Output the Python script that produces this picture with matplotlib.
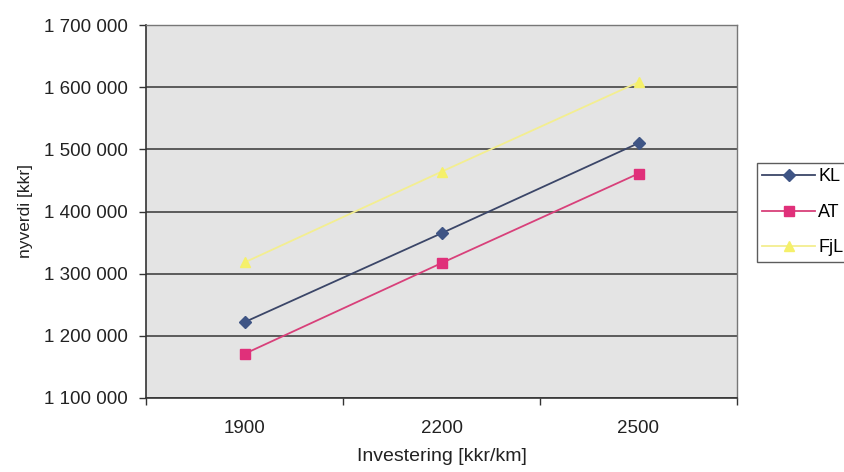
import matplotlib
matplotlib.use("Agg")
import matplotlib.pyplot as plt
from matplotlib.ticker import FuncFormatter, FixedLocator

plt.rcParams['font.family'] = ['Liberation Sans', 'DejaVu Sans']

categories = ["1900", "2200", "2500"]
kl = [1222000, 1365000, 1510000]
at = [1171000, 1317000, 1461000]
fjl = [1318000, 1464000, 1608000]
series_names = ["KL", "AT", "FjL"]
y_ticks = [1100000, 1200000, 1300000, 1400000, 1500000, 1600000, 1700000]

fig = plt.figure(figsize=(8.44, 4.72), dpi=100)
ax = fig.add_axes([146/844, 74/472, (737-146)/844, (398-25)/472])
ax.set_facecolor('#e4e4e4')

x = list(range(len(categories)))
ax.plot(x, kl, color='#3b4668', lw=1.3, marker='D', ms=6, mfc='#3f5585', mec='#3f5585', label=series_names[0], zorder=3)
ax.plot(x, at, color='#d8407a', lw=1.3, marker='s', ms=6.5, mfc='#e0307a', mec='#e0307a', label=series_names[1], zorder=3)
ax.plot(x, fjl, color='#f3ee90', lw=1.3, marker='^', ms=7, mfc='#f5f06a', mec='#f5f06a', label=series_names[2], zorder=3)

ax.set_xlim(-0.5, len(categories) - 0.5)
ax.set_ylim(1100000, 1700000)
ax.set_yticks(y_ticks)
ax.yaxis.set_major_formatter(FuncFormatter(lambda v, p: f"{int(v):,}".replace(",", " ")))
ax.grid(axis='y', color='#505050', lw=1.3, zorder=1)
ax.set_axisbelow(True)

ax.set_xticks(x)
ax.set_xticklabels(categories)
ax.xaxis.set_minor_locator(FixedLocator([i - 0.5 for i in range(len(categories) + 1)]))
ax.tick_params(axis='x', which='major', length=0, pad=16, labelsize=13.5, colors='#222222')
ax.tick_params(axis='x', which='minor', length=5, width=1, color='#333333')
ax.tick_params(axis='y', length=5, width=1, color='#333333', labelsize=13.5, labelcolor='#222222', pad=8)

for s in ['left', 'bottom']:
    ax.spines[s].set_color('#333333')
    ax.spines[s].set_linewidth(1.2)
for s in ['right', 'top']:
    ax.spines[s].set_color('#777777')
    ax.spines[s].set_linewidth(1.0)

ax.set_xlabel("Investering [kkr/km]", fontsize=14, color='#222222', labelpad=8)
ax.set_ylabel("nyverdi [kkr]", fontsize=12.5, color='#222222', labelpad=8)

leg = ax.legend(loc='upper left', bbox_to_anchor=(757/844, 1 - 163/472), bbox_transform=fig.transFigure,
                frameon=True, fancybox=False, edgecolor='#333333', fontsize=13,
                handlelength=2.9, handletextpad=0.2, borderpad=0.3, labelspacing=1.02, borderaxespad=0)
leg.get_frame().set_linewidth(1.0)

fig.savefig("out.png", dpi=100, facecolor='white')
